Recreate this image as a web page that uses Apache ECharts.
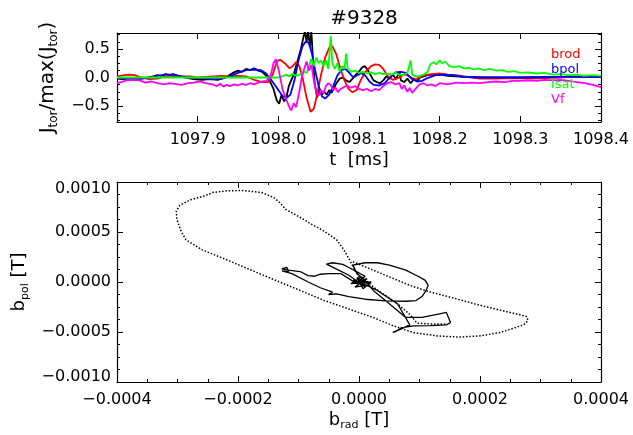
<!DOCTYPE html>
<html><head><meta charset="utf-8">
<script src="https://cdn.jsdelivr.net/npm/echarts@6/dist/echarts.min.js"></script>
<style>html,body{margin:0;padding:0;background:#fff}#c{width:633px;height:435px}</style>
</head><body><div id="c"></div>
<script>
const shotTitle = '#9328';
const timeTicks = [1097.9, 1098.0, 1098.1, 1098.2, 1098.3, 1098.4];
const jTicks = [-0.5, 0, 0.5];
const jMinor = [-0.75, -0.625, -0.375, -0.25, -0.125, 0.125, 0.25, 0.375, 0.625, 0.75];
const bradTicks = [-0.0004, -0.0002, 0, 0.0002, 0.0004];
const bradMinor = [-0.00035, -0.0003, -0.00025, -0.00015, -0.0001, -0.00005, 0.00005, 0.0001, 0.00015, 0.00025, 0.0003, 0.00035];
const bpolTicks = [-0.001, -0.0005, 0, 0.0005, 0.001];
const bpolMinor = [-0.000875, -0.00075, -0.000625, -0.000375, -0.00025, -0.000125, 0.000125, 0.00025, 0.000375, 0.000625, 0.00075, 0.000875];
const legendNames = ['brod', 'bpol', 'Isat', 'Vf'];

// time traces [t (ms), value]
const jtor = [[1097.800,-0.02],[1097.808,-0.03],[1097.815,-0.01],[1097.822,-0.03],[1097.830,-0.02],[1097.838,0.0],[1097.845,0.02],[1097.850,0.04],[1097.855,0.03],[1097.860,0.06],[1097.865,0.04],[1097.870,0.06],[1097.875,0.03],[1097.880,0.01],[1097.888,-0.01],[1097.895,-0.03],[1097.905,-0.04],[1097.915,-0.03],[1097.925,-0.04],[1097.932,-0.01],[1097.938,0.03],[1097.945,0.09],[1097.950,0.12],[1097.955,0.10],[1097.960,0.15],[1097.965,0.13],[1097.970,0.16],[1097.975,0.12],[1097.980,0.10],[1097.985,0.03],[1097.990,-0.08],[1097.994,-0.20],[1097.998,-0.40],[1098.001,-0.46],[1098.004,-0.30],[1098.007,-0.42],[1098.010,-0.35],[1098.013,-0.15],[1098.016,-0.05],[1098.019,0.05],[1098.022,0.20],[1098.025,0.35],[1098.028,0.50],[1098.031,0.70],[1098.033,0.82],[1098.035,0.62],[1098.037,0.82],[1098.039,0.55],[1098.041,0.80],[1098.043,0.30],[1098.045,-0.10],[1098.048,-0.35],[1098.051,-0.20],[1098.054,-0.30],[1098.057,-0.25],[1098.060,-0.30],[1098.063,-0.22],[1098.066,-0.27],[1098.069,-0.18],[1098.072,-0.10],[1098.076,-0.02],[1098.080,0.00],[1098.084,-0.05],[1098.088,-0.08],[1098.092,-0.02],[1098.096,0.05],[1098.100,0.10],[1098.104,0.18],[1098.107,0.20],[1098.110,0.15],[1098.114,0.05],[1098.118,-0.05],[1098.122,-0.08],[1098.126,-0.10],[1098.130,-0.05],[1098.134,0.02],[1098.138,-0.02],[1098.142,0.05],[1098.146,-0.03],[1098.150,0.10],[1098.152,-0.05],[1098.156,-0.08],[1098.160,-0.02],[1098.164,-0.10],[1098.168,-0.03],[1098.172,-0.06],[1098.176,0.00],[1098.180,0.02],[1098.185,0.04],[1098.190,0.05],[1098.195,0.04],[1098.200,0.05],[1098.210,0.03],[1098.220,0.02],[1098.230,0.01],[1098.260,0.0],[1098.300,0.0],[1098.350,0.01],[1098.400,0.01]];
const brod = [[1097.800,0.02],[1097.810,0.04],[1097.815,0.05],[1097.822,0.04],[1097.830,0.0],[1097.840,-0.03],[1097.850,-0.02],[1097.860,0.02],[1097.870,0.03],[1097.880,0.02],[1097.890,0.02],[1097.900,0.0],[1097.910,0.01],[1097.920,0.02],[1097.930,0.03],[1097.940,0.02],[1097.950,0.03],[1097.960,0.02],[1097.970,-0.04],[1097.980,-0.08],[1097.988,-0.08],[1097.993,0.05],[1097.998,0.28],[1098.002,0.31],[1098.008,0.25],[1098.014,0.16],[1098.018,0.20],[1098.022,0.27],[1098.026,0.20],[1098.030,0.0],[1098.035,-0.35],[1098.040,-0.60],[1098.044,-0.55],[1098.048,-0.30],[1098.053,0.05],[1098.058,0.35],[1098.063,0.52],[1098.067,0.55],[1098.072,0.40],[1098.077,0.15],[1098.082,-0.05],[1098.087,-0.20],[1098.092,-0.26],[1098.097,-0.22],[1098.102,-0.05],[1098.108,0.10],[1098.115,0.20],[1098.120,0.23],[1098.125,0.22],[1098.130,0.15],[1098.137,0.0],[1098.142,-0.04],[1098.150,0.0],[1098.155,0.05],[1098.160,0.04],[1098.165,0.0],[1098.170,-0.03],[1098.175,0.0],[1098.180,0.04],[1098.190,0.06],[1098.200,0.07],[1098.210,0.05],[1098.220,0.04],[1098.230,0.02],[1098.240,0.0],[1098.250,-0.02],[1098.270,-0.02],[1098.290,-0.01],[1098.310,-0.02],[1098.330,-0.01],[1098.350,0.0],[1098.370,0.02],[1098.400,0.02]];
const bpol = [[1097.800,-0.01],[1097.810,-0.02],[1097.820,-0.03],[1097.830,-0.02],[1097.840,0.0],[1097.850,0.03],[1097.860,0.05],[1097.870,0.05],[1097.880,0.02],[1097.890,0.0],[1097.900,-0.01],[1097.910,-0.02],[1097.920,-0.03],[1097.930,-0.02],[1097.940,0.02],[1097.950,0.08],[1097.960,0.13],[1097.970,0.14],[1097.978,0.13],[1097.985,0.07],[1097.990,-0.02],[1097.995,-0.12],[1098.000,-0.22],[1098.005,-0.32],[1098.010,-0.36],[1098.015,-0.30],[1098.020,-0.05],[1098.025,0.30],[1098.030,0.55],[1098.034,0.63],[1098.038,0.60],[1098.042,0.40],[1098.046,0.10],[1098.050,-0.15],[1098.054,-0.33],[1098.058,-0.37],[1098.063,-0.30],[1098.068,-0.15],[1098.073,0.03],[1098.078,0.13],[1098.083,0.15],[1098.088,0.08],[1098.093,0.0],[1098.098,0.04],[1098.103,0.08],[1098.108,0.03],[1098.113,-0.07],[1098.118,-0.13],[1098.125,-0.14],[1098.132,-0.10],[1098.138,0.0],[1098.145,0.09],[1098.152,0.10],[1098.158,0.08],[1098.165,-0.02],[1098.172,-0.07],[1098.178,-0.06],[1098.185,-0.01],[1098.195,0.04],[1098.205,0.05],[1098.215,0.04],[1098.230,0.01],[1098.250,0.0],[1098.300,0.0],[1098.350,0.01],[1098.400,0.01]];
const isat = [[1097.800,0.0],[1097.900,0.0],[1097.960,0.0],[1098.000,0.0],[1098.005,0.02],[1098.010,0.05],[1098.013,0.02],[1098.018,0.06],[1098.022,0.03],[1098.028,0.06],[1098.032,0.10],[1098.035,0.08],[1098.038,0.20],[1098.041,0.33],[1098.044,0.20],[1098.047,0.35],[1098.050,0.25],[1098.053,0.30],[1098.056,0.20],[1098.059,0.30],[1098.062,0.15],[1098.065,0.73],[1098.067,0.25],[1098.070,0.15],[1098.073,0.25],[1098.076,0.10],[1098.079,0.20],[1098.082,0.15],[1098.084,0.42],[1098.086,0.15],[1098.090,0.10],[1098.095,0.12],[1098.100,0.08],[1098.105,0.10],[1098.110,0.07],[1098.115,0.09],[1098.120,0.06],[1098.125,0.08],[1098.130,0.06],[1098.135,0.07],[1098.140,0.05],[1098.145,0.08],[1098.150,0.05],[1098.155,0.04],[1098.160,0.08],[1098.164,0.30],[1098.166,0.05],[1098.170,0.02],[1098.175,0.03],[1098.180,0.05],[1098.185,0.10],[1098.188,0.22],[1098.192,0.27],[1098.196,0.23],[1098.200,0.30],[1098.203,0.25],[1098.207,0.28],[1098.212,0.20],[1098.218,0.18],[1098.224,0.20],[1098.230,0.16],[1098.236,0.17],[1098.242,0.14],[1098.248,0.16],[1098.255,0.13],[1098.262,0.15],[1098.270,0.12],[1098.278,0.13],[1098.285,0.10],[1098.292,0.11],[1098.300,0.08],[1098.310,0.09],[1098.320,0.07],[1098.330,0.08],[1098.340,0.05],[1098.350,0.06],[1098.360,0.04],[1098.370,0.05],[1098.380,0.03],[1098.390,0.04],[1098.400,0.03]];
const vf = [[1097.800,-0.10],[1097.805,-0.08],[1097.812,-0.05],[1097.820,-0.04],[1097.828,-0.05],[1097.835,-0.09],[1097.842,-0.07],[1097.850,-0.10],[1097.858,-0.12],[1097.865,-0.10],[1097.872,-0.11],[1097.880,-0.13],[1097.888,-0.10],[1097.895,-0.09],[1097.902,-0.07],[1097.910,-0.10],[1097.918,-0.12],[1097.924,-0.15],[1097.928,-0.11],[1097.932,-0.16],[1097.936,-0.13],[1097.940,-0.15],[1097.945,-0.12],[1097.950,-0.14],[1097.955,-0.11],[1097.960,-0.13],[1097.965,-0.10],[1097.970,-0.12],[1097.975,-0.09],[1097.980,-0.07],[1097.985,-0.06],[1097.990,0.0],[1097.994,0.25],[1097.997,0.32],[1098.001,0.10],[1098.005,-0.20],[1098.009,-0.35],[1098.013,-0.50],[1098.016,-0.58],[1098.019,-0.45],[1098.022,-0.52],[1098.026,-0.25],[1098.029,0.0],[1098.032,0.15],[1098.035,0.28],[1098.038,0.12],[1098.041,0.22],[1098.044,-0.05],[1098.047,-0.25],[1098.050,-0.32],[1098.053,-0.22],[1098.056,-0.28],[1098.059,-0.15],[1098.062,-0.10],[1098.065,-0.13],[1098.068,-0.22],[1098.071,-0.18],[1098.074,-0.26],[1098.077,-0.20],[1098.081,-0.17],[1098.085,-0.14],[1098.090,-0.18],[1098.095,-0.15],[1098.100,-0.20],[1098.105,-0.22],[1098.110,-0.20],[1098.115,-0.24],[1098.120,-0.20],[1098.125,-0.22],[1098.130,-0.15],[1098.135,-0.10],[1098.140,-0.08],[1098.145,-0.12],[1098.150,-0.10],[1098.153,-0.20],[1098.156,-0.14],[1098.160,-0.25],[1098.163,-0.18],[1098.166,-0.27],[1098.170,-0.20],[1098.175,-0.12],[1098.180,-0.10],[1098.185,-0.14],[1098.190,-0.12],[1098.195,-0.15],[1098.200,-0.10],[1098.210,-0.12],[1098.220,-0.09],[1098.230,-0.10],[1098.240,-0.09],[1098.250,-0.10],[1098.260,-0.08],[1098.270,-0.07],[1098.280,-0.08],[1098.290,-0.06],[1098.300,-0.06],[1098.310,-0.05],[1098.320,-0.06],[1098.330,-0.04],[1098.340,-0.05],[1098.350,-0.04],[1098.360,-0.06],[1098.370,-0.08],[1098.380,-0.10],[1098.390,-0.13],[1098.400,-0.17]];

// hodogram [brad (T), bpol (T)]
const hodoSolid = [[0,0],[1.34e-5,3.38e-5],[-0.67e-5,-5.07e-5],[1.01e-5,-3.38e-5],[-1.01e-5,1.69e-5],[1.68e-5,-1.69e-5],[-0.34e-5,4.39e-5],[0.67e-5,-6.76e-5],[2.02e-5,0],[-1.34e-5,-1.69e-5],[0.34e-5,5.07e-5],[1.01e-5,-5.07e-5],[-1.68e-5,6.76e-5],[-3.36e-5,1.182e-4],[-4.71e-5,1.588e-4],[-5.38e-5,1.79e-4],[-4.37e-5,1.925e-4],[-2.69e-5,1.757e-4],[-1.68e-5,1.453e-4],[-0.34e-5,1.013e-4],[1.01e-5,5.74e-5],[-0.34e-5,-1.69e-5],[-1.68e-5,3.38e-5],[-3.03e-5,8.45e-5],[-5.04e-5,8.45e-5],[-6.39e-5,7.77e-5],[-7.40e-5,5.74e-5],[-8.40e-5,6.42e-5],[-9.75e-5,1.047e-4],[-1.163e-4,1.182e-4],[-1.277e-4,1.317e-4],[-1.190e-4,1.453e-4],[-1.163e-4,1.047e-4],[-1.271e-4,1.115e-4],[-1.109e-4,8.45e-5],[-8.40e-5,0],[-6.39e-5,-5.74e-5],[-4.37e-5,-1.013e-4],[-5.04e-5,-1.25e-4],[-3.70e-5,-1.182e-4],[-1.68e-5,-1.453e-4],[1.01e-5,-1.723e-4],[4.37e-5,-1.892e-4],[7.73e-5,-1.925e-4],[9.41e-5,-1.858e-4],[1.042e-4,-1.453e-4],[1.109e-4,-8.45e-5],[1.143e-4,-3.38e-5],[1.096e-4,1.69e-5],[9.75e-5,5.74e-5],[7.73e-5,1.182e-4],[5.04e-5,1.689e-4],[3.03e-5,1.925e-4],[1.01e-5,1.925e-4],[-1.01e-5,1.689e-4],[-0.34e-5,8.45e-5],[1.01e-5,1.69e-5],[2.35e-5,-8.45e-5],[4.37e-5,-1.858e-4],[6.39e-5,-2.871e-4],[7.73e-5,-3.547e-4],[1.042e-4,-3.547e-4],[1.311e-4,-3.209e-4],[1.445e-4,-3.04e-4],[1.479e-4,-3.547e-4],[1.513e-4,-4.054e-4],[1.445e-4,-4.29e-4],[1.177e-4,-4.358e-4],[9.08e-5,-4.391e-4],[7.06e-5,-4.56e-4],[6.05e-5,-4.966e-4],[5.58e-5,-5.033e-4],[6.72e-5,-4.763e-4],[8.40e-5,-4.29e-4],[6.39e-5,-2.196e-4],[3.03e-5,-8.45e-5],[0.67e-5,-1.69e-5],[0,1.69e-5]];
const hodoDotLoop = [[0.34e-5,1.69e-5],[-0.67e-5,1.18e-4],[-1.55e-5,2.2e-4],[-2.49e-5,3.21e-4],[-3.7e-5,4.22e-4],[-5.71e-5,5.07e-4],[-7.73e-5,5.74e-4],[-1.01e-4,6.59e-4],[-1.21e-4,7.26e-4],[-1.31e-4,7.94e-4],[-1.41e-4,8.45e-4],[-1.61e-4,8.95e-4],[-1.92e-4,9.15e-4],[-2.18e-4,9.12e-4],[-2.42e-4,8.95e-4],[-2.55e-4,8.61e-4],[-2.79e-4,8.21e-4],[-2.96e-4,7.67e-4],[-3.02e-4,7.09e-4],[-3.01e-4,6.25e-4],[-2.94e-4,5.07e-4],[-2.86e-4,4.22e-4],[-2.59e-4,3.21e-4],[-2.18e-4,2.2e-4],[-1.78e-4,1.18e-4],[-1.38e-4,1.7e-5],[-9.75e-5,-8.45e-5],[-5.71e-5,-1.86e-4],[-1.68e-5,-2.7e-4],[2.35e-5,-3.55e-4],[5.71e-5,-4.39e-4],[9.08e-5,-5.07e-4],[1.31e-4,-5.4e-4],[1.65e-4,-5.51e-4],[1.98e-4,-5.4e-4],[2.32e-4,-5.07e-4],[2.55e-4,-4.63e-4],[2.72e-4,-4.29e-4],[2.79e-4,-3.88e-4],[2.78e-4,-3.48e-4],[2.66e-4,-3.28e-4],[2.32e-4,-2.8e-4],[1.92e-4,-2.2e-4],[1.51e-4,-1.52e-4],[1.18e-4,-1.01e-4],[8.4e-5,-3.38e-5],[5.04e-5,5.07e-5],[1.68e-5,1.35e-4],[-1.01e-5,2.03e-4]];
const hodoDotInner = [[0.5e-5,5e-5],[3e-5,-8e-5],[6e-5,-2e-4],[8.5e-5,-3.3e-4],[9.6e-5,-4.11e-4],[1.2e-4,-4.2e-4],[1.45e-4,-4.21e-4]];

const FONT = 'DejaVu Sans';
const fmt = (v, d) => (v < -1e-12 ? '\u2212' : '') + Math.abs(v).toFixed(d);
const lblStyle = { fontFamily: FONT, fontSize: 16, color: '#000' };
const nameStyle = (fs, sub, lh) => ({ fontFamily: FONT, fontSize: fs, color: '#000', lineHeight: lh,
  rich: { s: { fontFamily: FONT, fontSize: sub, lineHeight: sub, verticalAlign: 'bottom', color: '#000' } } });
const line = { show: true, onZero: false, lineStyle: { color: '#000', width: 1.2 } };
const noLine = { show: false, onZero: false };

function xPair(grid, min, max, major, minor, labelCfg, name, nameGap, ns) {
  const axes = [];
  ['bottom', 'top'].forEach((pos, k) => {
    axes.push({ type: 'value', gridIndex: grid, position: pos, min, max, axisLine: line,
      splitLine: { show: false },
      axisTick: { show: true, inside: true, length: 6, customValues: major, lineStyle: { color: '#000', width: 1 } },
      axisLabel: k === 0 ? Object.assign({ show: true, customValues: major }, labelCfg) : { show: false },
      name: k === 0 ? name : '', nameLocation: 'middle', nameGap, nameTextStyle: ns });
    if (minor) axes.push({ type: 'value', gridIndex: grid, position: pos, min, max, axisLine: noLine,
      splitLine: { show: false }, axisLabel: { show: false },
      axisTick: { show: true, inside: true, length: 3, customValues: minor, lineStyle: { color: '#000', width: 1 } } });
  });
  return axes;
}
function yPair(grid, min, max, major, minor, labelCfg, name, nameGap, ns) {
  const axes = [];
  ['left', 'right'].forEach((pos, k) => {
    axes.push({ type: 'value', gridIndex: grid, position: pos, min, max, axisLine: line,
      splitLine: { show: false },
      axisTick: { show: true, inside: true, length: 6, customValues: major, lineStyle: { color: '#000', width: 1 } },
      axisLabel: k === 0 ? Object.assign({ show: true, customValues: major }, labelCfg) : { show: false },
      name: k === 0 ? name : '', nameLocation: 'middle', nameGap, nameTextStyle: ns });
    axes.push({ type: 'value', gridIndex: grid, position: pos, min, max, axisLine: noLine,
      splitLine: { show: false }, axisLabel: { show: false },
      axisTick: { show: true, inside: true, length: 3, customValues: minor, lineStyle: { color: '#000', width: 1 } } });
  });
  return axes;
}

const xAxes = [
  ...xPair(0, 1097.8, 1098.4, timeTicks, null, Object.assign({ margin: 10, formatter: v => v.toFixed(1) }, lblStyle), 't  [ms]', 27, nameStyle(18, 11, 22)),
  ...xPair(1, -0.0004, 0.0004, bradTicks, bradMinor, Object.assign({ margin: 10, formatter: v => fmt(v, 4) }, lblStyle), 'b{s|rad} [T]', 25, nameStyle(18, 11, 22))
];
const bottomXIndex = 2;
const yAxes = [
  ...yPair(0, -0.78, 0.78, jTicks, jMinor, Object.assign({ margin: 7, formatter: v => fmt(v, 1) }, lblStyle), 'J{s|tor}/max(J{s|tor})', 52, nameStyle(20, 12, 24)),
  ...yPair(1, -0.001, 0.001, bpolTicks, bpolMinor, Object.assign({ margin: 6,
      formatter: v => v > 0.00099 ? '{t|' + fmt(v, 4) + '}' : (v < -0.00099 ? '{b|' + fmt(v, 4) + '}' : fmt(v, 4)),
      rich: { t: { fontFamily: FONT, fontSize: 16, padding: [13, 0, 0, 0] }, b: { fontFamily: FONT, fontSize: 16, padding: [0, 0, 10, 0] } } }, lblStyle), 'b{s|pol} [T]', 80, nameStyle(18, 11, 22))
];
const bottomYIndex = 4;

const mk = (name, data, color, w) => ({ name, type: 'line', data, xAxisIndex: 0, yAxisIndex: 0, showSymbol: false,
  symbol: 'none', animation: false, clip: true, lineStyle: { color, width: w }, itemStyle: { color } });

const chart = echarts.init(document.getElementById('c'), null, { renderer: 'canvas' });
chart.setOption({
  animation: false,
  backgroundColor: '#fff',
  title: { text: shotTitle, left: 359, top: 4, textAlign: 'center',
    textStyle: { fontFamily: FONT, fontSize: 20, fontWeight: 'normal', color: '#000' } },
  legend: { data: legendNames.map((n, i) => ({ name: n, icon: 'none', textStyle: { color: ['#ff0000', '#0000ff', '#00ff00', '#ff00ff'][i] } })),
    orient: 'vertical', left: 546, top: 48, itemWidth: 0, itemHeight: 12, itemGap: 2, padding: 0,
    textStyle: { fontFamily: FONT, fontSize: 13 }, selectedMode: false },
  grid: [
    { left: 117, top: 33, width: 484, height: 89 },
    { left: 117, top: 182, width: 484, height: 200 }
  ],
  xAxis: xAxes,
  yAxis: yAxes,
  series: [
    mk('J', jtor, '#000000', 1.8),
    mk('brod', brod, '#ff0000', 1.8),
    mk('bpol', bpol, '#0000ff', 1.8),
    mk('Isat', isat, '#00ff00', 1.8),
    mk('Vf', vf, '#ff00ff', 1.8),
    { name: 'hodo', type: 'line', data: hodoSolid, xAxisIndex: bottomXIndex, yAxisIndex: bottomYIndex, showSymbol: false,
      symbol: 'none', lineStyle: { color: '#000', width: 1.3 }, animation: false },
    { name: 'hodoDot', type: 'line', data: hodoDotLoop, xAxisIndex: bottomXIndex, yAxisIndex: bottomYIndex, showSymbol: false,
      symbol: 'none', lineStyle: { color: '#000', width: 1.5, type: [1.5, 1.8] }, animation: false },
    { name: 'hodoDot2', type: 'line', data: hodoDotInner, xAxisIndex: bottomXIndex, yAxisIndex: bottomYIndex, showSymbol: false,
      symbol: 'none', lineStyle: { color: '#000', width: 1.5, type: [1.5, 1.8] }, animation: false }
  ]
});
</script></body></html>
